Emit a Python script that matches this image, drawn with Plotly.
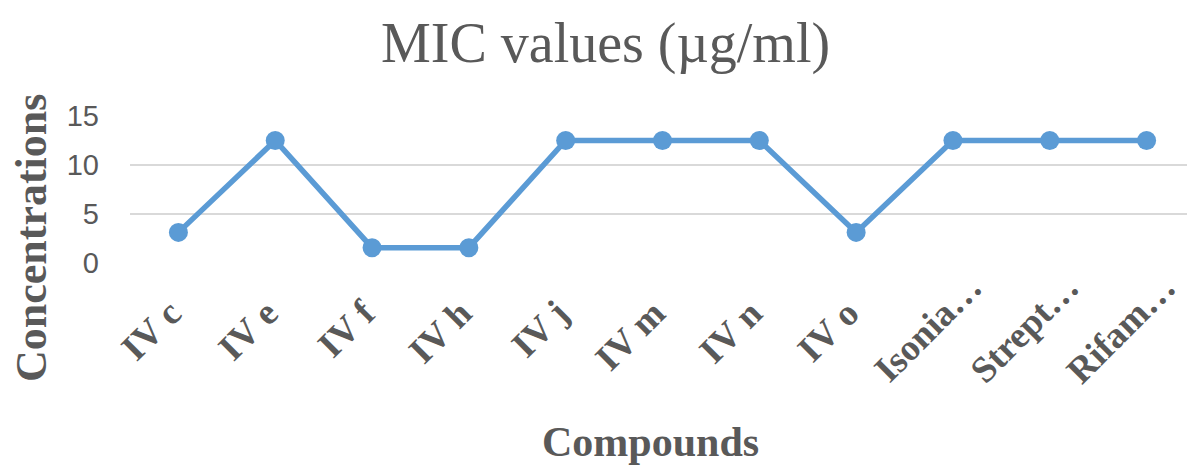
import plotly.graph_objects as go

categories = ["IV c", "IV e", "IV f", "IV h", "IV j", "IV m", "IV n", "IV o",
              "Isonia…", "Strept…", "Rifam…"]
mic_values = [3.125, 12.5, 1.56, 1.56, 12.5, 12.5, 12.5, 3.125, 12.5, 12.5, 12.5]
y_ticks = [0, 5, 10, 15]

# Excel centres the short rotated labels in the label band; emulate with trailing
# non-breaking spaces on the untruncated labels
tick_text = [c if c.endswith("…") else c + "\u00a0" * 4 for c in categories]

# page body has an 8px margin, so the figure is placed at (8, 8) in the window
OFF = 8
W, H = 1195 - OFF, 465 - OFF
L, R, T, B = 130 - OFF, 0, 116 - OFF, H - (263 - OFF)
PW, PH = W - L - R, H - T - B


def px_x(x):
    return (x - OFF - L) / PW


def px_y(y):
    return ((H - B) - (y - OFF)) / PH


fig = go.Figure()
fig.add_trace(go.Scatter(
    x=categories, y=mic_values, mode="lines+markers",
    line=dict(color="#5B9BD5", width=5.5),
    marker=dict(color="#5B9BD5", size=19),
    showlegend=False, cliponaxis=False,
))

fig.update_layout(
    width=W, height=H,
    margin=dict(l=L, r=R, t=T, b=B, autoexpand=False),
    paper_bgcolor="white", plot_bgcolor="white",
    xaxis=dict(
        type="category", range=[-0.5, len(categories) - 0.5],
        tickmode="array", tickvals=categories, ticktext=tick_text,
        showgrid=False, zeroline=False, showline=False,
        tickangle=-45, ticks="", automargin=False,
        tickfont=dict(family="Liberation Serif", size=37, color="#595959", weight="bold"),
        ticklabelstandoff=-6, ticklabelshift=18,
    ),
    yaxis=dict(
        range=[0, 15], tickvals=y_ticks, showgrid=True, gridcolor="#D9D9D9", gridwidth=2,
        zeroline=False, showline=False, ticks="", automargin=False,
        tickfont=dict(family="Liberation Sans", size=29, color="#595959"),
        ticklabelstandoff=30,
    ),
    annotations=[
        dict(text="MIC values (µg/ml)", xref="paper", yref="paper",
             x=px_x(605), y=px_y(44),
             xanchor="center", yanchor="middle", showarrow=False,
             font=dict(family="Liberation Serif", size=56, color="#595959")),
        dict(text="<b>Compounds</b>", xref="paper", yref="paper",
             x=px_x(650), y=px_y(442),
             xanchor="center", yanchor="middle", showarrow=False,
             font=dict(family="Liberation Serif", size=42, color="#595959")),
        dict(text="<b>Concentrations</b>", xref="paper", yref="paper",
             x=px_x(31), y=px_y(238),
             xanchor="center", yanchor="middle", showarrow=False, textangle=-90,
             font=dict(family="Liberation Serif", size=44, color="#595959")),
    ],
)

fig.write_html("out.html")
